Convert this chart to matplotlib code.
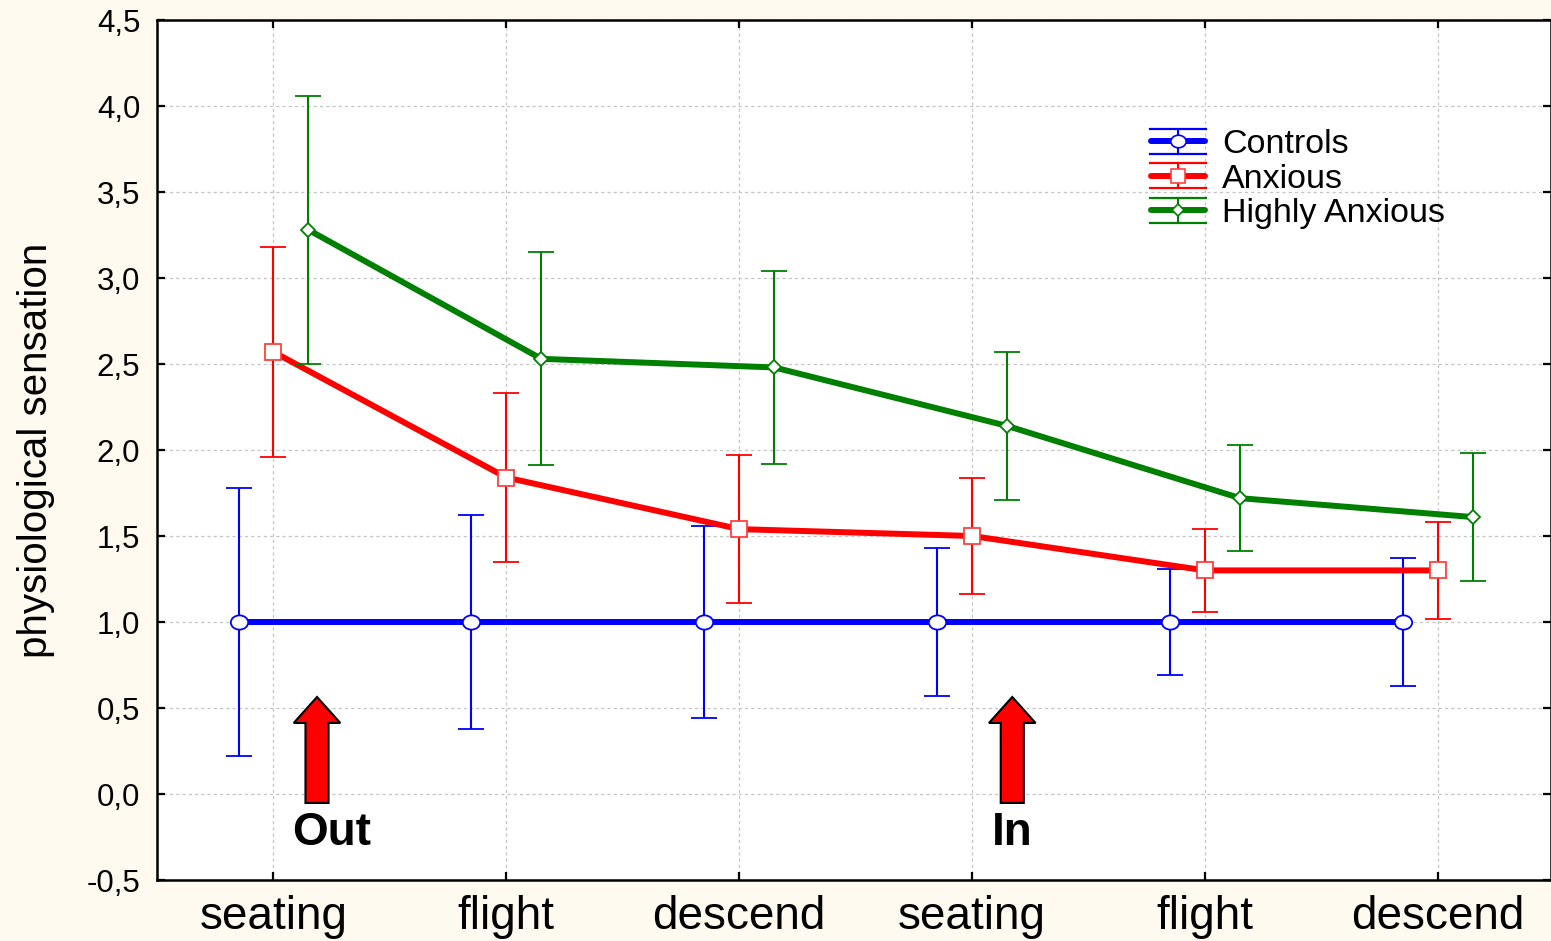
import numpy as np
import matplotlib
matplotlib.use("Agg")
import matplotlib.pyplot as plt
from matplotlib.path import Path
from matplotlib.transforms import Affine2D
from matplotlib.lines import Line2D
from matplotlib.legend_handler import HandlerBase
from matplotlib.patches import FancyArrow

# ---- data -------------------------------------------------------------
phases = ["seating", "flight", "descend", "seating", "flight", "descend"]

controls_mean = [1.00, 1.00, 1.00, 1.00, 1.00, 1.00]
controls_err = [0.78, 0.62, 0.56, 0.43, 0.31, 0.37]

anxious_mean = [2.57, 1.84, 1.54, 1.50, 1.30, 1.30]
anxious_err = [0.61, 0.49, 0.43, 0.34, 0.24, 0.28]

highly_mean = [3.28, 2.53, 2.48, 2.14, 1.72, 1.61]
highly_err = [0.78, 0.62, 0.56, 0.43, 0.31, 0.37]

group_names = ["Controls", "Anxious", "Highly Anxious"]

y_ticks = [-0.5, 0.0, 0.5, 1.0, 1.5, 2.0, 2.5, 3.0, 3.5, 4.0, 4.5]
y_tick_labels = ["-0,5", "0,0", "0,5", "1,0", "1,5", "2,0", "2,5", "3,0", "3,5", "4,0", "4,5"]

# ---- style -------------------------------------------------------------
plt.rcParams["font.family"] = ["Liberation Sans", "DejaVu Sans"]
BG = "#FFFAEF"
colors = ["#0000FF", "#FF0000", "#008000"]
edge_colors = ["#0000FF", "#FF4040", "#008000"]
offsets = [-0.15, 0.0, 0.15]

# slightly flattened circle for the control group
ellipse = Path.unit_circle().transformed(Affine2D().scale(1.0, 0.82))
markers = [ellipse, "s", "D"]
marker_sizes = [12.5, 12, 7.5]

fig = plt.figure(figsize=(15.51, 9.41), dpi=100, facecolor=BG)
ax = fig.add_axes([157 / 1551, 61 / 941, 1394 / 1551, 860 / 941])
ax.set_facecolor("white")

means = [controls_mean, anxious_mean, highly_mean]
errs = [controls_err, anxious_err, highly_err]
xpos = np.arange(len(phases))

for i in range(3):
    ax.errorbar(xpos + offsets[i], means[i], yerr=errs[i],
                color=colors[i], lw=4.3, elinewidth=1.5, capsize=9.5, capthick=2.0,
                marker=markers[i], ms=marker_sizes[i], mfc="white",
                mec=edge_colors[i], mew=1.3, zorder=3 + i)

# axes, ticks and grid
ax.set_xlim(-0.5, 5.485)
ax.set_ylim(-0.5, 4.5)
ax.set_xticks(xpos)
ax.set_xticklabels(phases, fontsize=33)
ax.set_yticks(y_ticks)
ax.set_yticklabels(y_tick_labels, fontsize=22.5)
ax.tick_params(axis="both", direction="in", length=6, width=1.6,
               top=True, right=True, colors="black")
ax.tick_params(axis="y", pad=12)
ax.tick_params(axis="x", pad=11)
ax.grid(True, color="#C4C4C4", linestyle=(0, (2.5, 2.5)), linewidth=0.9)
ax.set_axisbelow(True)
for sp in ax.spines.values():
    sp.set_linewidth(1.8)
    sp.set_color("black")

ax.set_ylabel("physiological sensation", fontsize=29)
ax.yaxis.set_label_coords(-0.073, 0.5)

# "Out" / "In" arrows
for xc in [0.187, 3.172]:
    ax.add_patch(FancyArrow(xc, -0.052, 0, 0.616, width=0.099, head_width=0.2,
                            head_length=0.151, length_includes_head=True,
                            facecolor="#FF0000", edgecolor="black", linewidth=1.5,
                            zorder=6))
for xc, word in [(0.251, "Out"), (3.172, "In")]:
    ax.text(xc, -0.297, word, fontsize=33, fontweight="bold",
            ha="center", va="baseline", zorder=6)


# legend entries: thick line, marker and a full-width error bar
class ErrorbarKey(HandlerBase):
    def __init__(self, color, edge, marker, ms, half=9.0):
        super().__init__()
        self.color, self.edge, self.marker, self.ms, self.half = color, edge, marker, ms, half

    def create_artists(self, legend, orig_handle, xdescent, ydescent,
                       width, height, fontsize, trans):
        x0, x1 = -xdescent, -xdescent + width
        xc = (x0 + x1) / 2
        yc = -ydescent + height / 2
        h = self.half
        arts = [
            Line2D([x0 + 1, x1 - 1], [yc + h, yc + h], color=self.color, lw=1.6),
            Line2D([x0 + 1, x1 - 1], [yc - h, yc - h], color=self.color, lw=1.6),
            Line2D([xc, xc], [yc - h, yc + h], color=self.color, lw=1.5),
            Line2D([x0 + 2, x1 - 2], [yc, yc], color=self.color, lw=4.3,
                   solid_capstyle="round"),
            Line2D([xc], [yc], marker=self.marker, ms=self.ms, mfc="white",
                   mec=self.edge, mew=1.2, linestyle="none"),
        ]
        for a in arts:
            a.set_transform(trans)
        return arts


proxies = [Line2D([], [], color=c) for c in colors]
hmap = {proxies[i]: ErrorbarKey(colors[i], edge_colors[i], markers[i],
                                [11, 10, 6.5][i]) for i in range(3)}
ax.legend(proxies, group_names, handler_map=hmap, loc="upper left",
          bbox_to_anchor=(0.711, 0.873), frameon=False, fontsize=24.5,
          borderpad=0, borderaxespad=0, handlelength=1.75, handletextpad=0.42,
          labelspacing=0.1)

fig.savefig("out.png", dpi=100, facecolor=BG)
